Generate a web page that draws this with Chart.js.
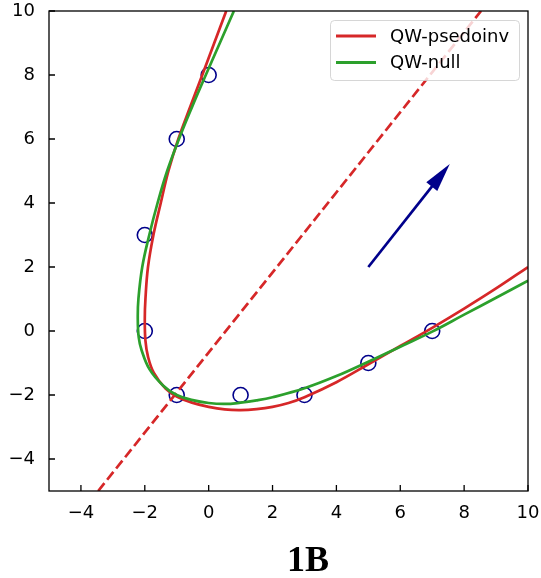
<!DOCTYPE html>
<html lang="en">
<head>
<meta charset="UTF-8">
<title>1B</title>
<style>
  body { margin: 0; padding: 0; background: #fff; }
  #wrap { width: 541px; height: 578px; position: relative; }
</style>
</head>
<body>
<div id="wrap"><canvas id="chart"></canvas></div>
<script src="https://cdn.jsdelivr.net/npm/chart.js"></script>
<script>
// observed points
const obsX = [0, -1, -2, -2, -1, 1, 3, 5, 7];
const obsY = [8, 6, 3, 0, -2, -2, -2, -1, 0];

// QW-psedoinv curve
const redX = [0.55, 0.175, -0.2, -0.58, -0.95, -1.26, -1.5, -1.73, -1.9, -1.98, -2.0, -1.98, -1.9, -1.72, -1.35, -1.0, -0.55, 0.0, 0.5, 1.0, 1.5, 2.0, 2.5, 3.0, 4, 5, 6, 7, 8, 9, 10];
const redY = [10, 9, 8, 7, 6, 5, 4, 3, 2, 1, 0.4, -0.3, -0.8, -1.3, -1.8, -2.05, -2.23, -2.37, -2.45, -2.47, -2.44, -2.37, -2.25, -2.07, -1.6, -1.04, -0.47, 0.1, 0.7, 1.33, 2.0];

// QW-null curve
const greenX = [0.79, 0.35, -0.09, -0.52, -0.93, -1.3, -1.6, -1.86, -2.08, -2.2, -2.22, -2.19, -2.1, -1.85, -1.43, -1.0, -0.5, 0.0, 0.5, 1.0, 1.5, 2.0, 3.0, 4, 5, 6, 7, 8, 9, 10];
const greenY = [10, 9, 8, 7, 6, 5, 4, 3, 2, 1, 0.4, -0.2, -0.6, -1.2, -1.7, -2.0, -2.16, -2.25, -2.28, -2.24, -2.17, -2.07, -1.79, -1.41, -0.96, -0.49, -0.02, 0.51, 1.04, 1.57];

// dashed axis line
const dashX = [-3.46, 8.53];
const dashY = [-5, 10];

// arrow
const arrowFrom = [5, 2];
const arrowTo = [7.55, 5.22];

// ticks
const xTicks = [-4, -2, 0, 2, 4, 6, 8, 10];
const xTickLabels = ['\u22124', '\u22122', '0', '2', '4', '6', '8', '10'];
const yTicks = [-4, -2, 0, 2, 4, 6, 8, 10];
const yTickLabels = ['\u22124', '\u22122', '0', '2', '4', '6', '8', '10'];

const RED = '#d62728', GREEN = '#2ca02c', NAVY = '#00008b';
const FONT = 'DejaVu Sans';

function toPts(xs, ys) {
    return xs.map((x, i) => ({ x: x, y: ys[i] }));
}

const framePlugin = {
    id: 'frame',
    afterDatasetsDraw(chart) {
        const ctx = chart.ctx;
        const a = chart.chartArea;
        const sx = chart.scales.x, sy = chart.scales.y;
        ctx.save();

        // arrow
        const p0 = [sx.getPixelForValue(arrowFrom[0]), sy.getPixelForValue(arrowFrom[1])];
        const p1 = [sx.getPixelForValue(arrowTo[0]), sy.getPixelForValue(arrowTo[1])];
        const dx = p1[0] - p0[0], dy = p1[1] - p0[1];
        const len = Math.hypot(dx, dy);
        const ux = dx / len, uy = dy / len;
        const headLen = 29, headHalf = 7;
        const bx = p1[0] - ux * headLen, by = p1[1] - uy * headLen;
        ctx.strokeStyle = NAVY;
        ctx.fillStyle = NAVY;
        ctx.lineWidth = 2.7;
        ctx.beginPath();
        ctx.moveTo(p0[0], p0[1]);
        ctx.lineTo(bx + ux * 2, by + uy * 2);
        ctx.stroke();
        ctx.beginPath();
        ctx.moveTo(p1[0], p1[1]);
        ctx.lineTo(bx - uy * headHalf, by + ux * headHalf);
        ctx.lineTo(bx + uy * headHalf, by - ux * headHalf);
        ctx.closePath();
        ctx.fill();

        // spines
        ctx.strokeStyle = '#000';
        ctx.lineWidth = 1.3;
        ctx.strokeRect(a.left, a.top, a.right - a.left, a.bottom - a.top);

        // inward ticks
        ctx.beginPath();
        xTicks.forEach(v => {
            const px = sx.getPixelForValue(v);
            ctx.moveTo(px, a.bottom);
            ctx.lineTo(px, a.bottom - 6);
        });
        yTicks.forEach(v => {
            const py = sy.getPixelForValue(v);
            ctx.moveTo(a.left, py);
            ctx.lineTo(a.left + 6, py);
        });
        ctx.stroke();

        // legend
        const lx = 330.5, ly = 20.5, lw = 189, lh = 60;
        ctx.beginPath();
        ctx.roundRect(lx, ly, lw, lh, 4);
        ctx.fillStyle = 'rgba(255,255,255,0.8)';
        ctx.fill();
        ctx.strokeStyle = 'rgba(204,204,204,0.8)';
        ctx.lineWidth = 1;
        ctx.stroke();
        const entries = [chart.data.datasets[1], chart.data.datasets[0]];
        const rows = [36, 62.5];
        ctx.font = '18px "' + FONT + '"';
        ctx.textBaseline = 'middle';
        ctx.textAlign = 'left';
        entries.forEach((ds, i) => {
            ctx.strokeStyle = ds.borderColor;
            ctx.lineWidth = 2.8;
            ctx.beginPath();
            ctx.moveTo(336, rows[i]);
            ctx.lineTo(376, rows[i]);
            ctx.stroke();
            ctx.fillStyle = '#000';
            ctx.fillText(ds.label, 390, rows[i] + 1);
        });
        ctx.restore();
    },
    afterDraw(chart) {
        const ctx = chart.ctx;
        ctx.save();
        ctx.font = 'bold 36px "Liberation Serif"';
        ctx.fillStyle = '#000';
        ctx.textAlign = 'center';
        ctx.textBaseline = 'alphabetic';
        ctx.fillText('1B', 308, 571);
        ctx.restore();
    }
};

new Chart(document.getElementById('chart'), {
    type: 'scatter',
    data: {
        datasets: [
            { label: 'QW-null', data: toPts(greenX, greenY), showLine: true, borderColor: GREEN, borderWidth: 2.7, pointRadius: 0, tension: 0.4, order: 1 },
            { label: 'QW-psedoinv', data: toPts(redX, redY), showLine: true, borderColor: RED, borderWidth: 2.7, pointRadius: 0, tension: 0.4, order: 2 },
            { label: 'axis', data: toPts(dashX, dashY), showLine: true, borderColor: RED, borderWidth: 2.7, borderDash: [10, 4.4], pointRadius: 0, order: 3 },
            { label: 'data', data: toPts(obsX, obsY), showLine: false, pointRadius: 7.5, pointBorderWidth: 1.6,
              pointBorderColor: NAVY, pointBackgroundColor: 'rgba(0,0,0,0)', order: 4 }
        ]
    },
    options: {
        responsive: true,
        maintainAspectRatio: false,
        animation: false,
        events: [],
        layout: { padding: { left: 0, right: 13, top: 11, bottom: 0 } },
        plugins: { legend: { display: false }, tooltip: { enabled: false } },
        scales: {
            x: {
                type: 'linear', min: -5, max: 10,
                grid: { display: false, drawTicks: false },
                border: { display: false },
                ticks: {
                    padding: 12, color: '#000', font: { family: FONT, size: 18 },
                    callback: v => xTickLabels[xTicks.indexOf(v)]
                },
                afterBuildTicks: s => { s.ticks = xTicks.map(v => ({ value: v })); },
                afterFit: s => { s.height = 87; s.paddingLeft = 0; s.paddingRight = 0; }
            },
            y: {
                type: 'linear', min: -5, max: 10,
                grid: { display: false, drawTicks: false },
                border: { display: false },
                ticks: {
                    padding: 14, color: '#000', font: { family: FONT, size: 18 },
                    callback: v => yTickLabels[yTicks.indexOf(v)]
                },
                afterBuildTicks: s => { s.ticks = yTicks.map(v => ({ value: v })); },
                afterFit: s => { s.width = 49; s.paddingTop = 0; s.paddingBottom = 0; }
            }
        }
    },
    plugins: [framePlugin]
});
</script>
</body>
</html>
